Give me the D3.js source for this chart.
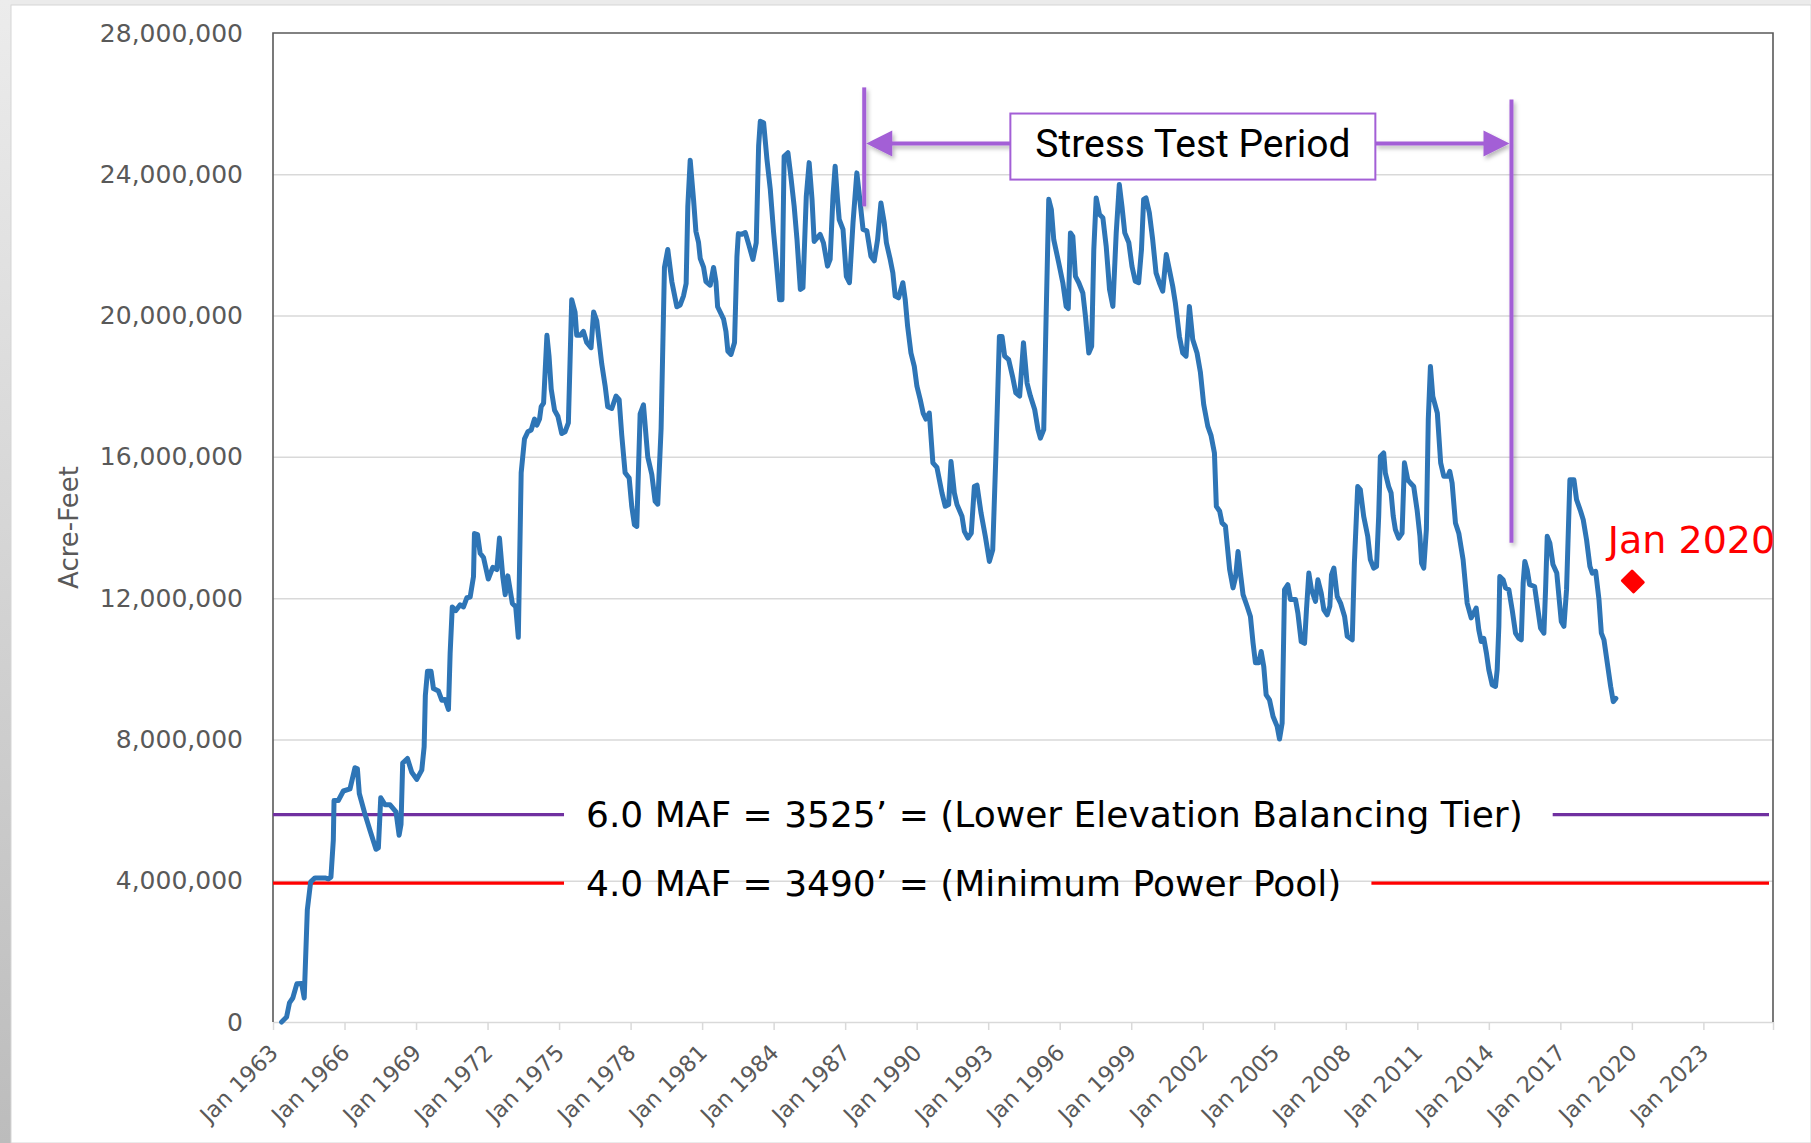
<!DOCTYPE html>
<html>
<head>
<meta charset="utf-8">
<script src="https://cdn.jsdelivr.net/npm/d3@7"></script>
<style>
  body { margin: 0; background: #fff; }
  svg { display: block; }
</style>
</head>
<body>
<svg id="chart" width="1811" height="1143"></svg>
<script>
// Lake Powell storage (decimal year, million acre-feet)
const years = [
  1963.36,1963.57,1963.69,1963.83,1964.00,1964.20,1964.31,1964.44,1964.58,1964.76,1965.18,1965.32,1965.43,1965.53,1965.56,1965.74,1965.95,
  1966.23,1966.44,1966.54,1966.62,1966.86,1967.07,1967.32,1967.42,1967.52,1967.70,1967.91,1968.16,1968.29,1968.37,1968.44,1968.64,1968.82,
  1969.03,1969.24,1969.34,1969.39,1969.48,1969.63,1969.73,1969.94,1970.08,1970.22,1970.36,1970.43,1970.52,1970.67,1970.85,1970.99,
  1971.13,1971.27,1971.41,1971.45,1971.58,1971.69,1971.83,1972.03,1972.22,1972.39,1972.50,1972.64,1972.74,1972.85,1973.04,1973.18,1973.29,
  1973.41,1973.55,1973.69,1973.83,1973.97,1974.07,1974.18,1974.25,1974.35,1974.49,1974.58,1974.67,1974.81,1974.95,1975.11,1975.25,1975.39,
  1975.53,1975.67,1975.74,1975.88,1976.02,1976.16,1976.34,1976.45,1976.58,1976.79,1976.93,1977.04,1977.21,1977.39,1977.52,1977.63,1977.77,
  1977.94,1978.05,1978.16,1978.26,1978.40,1978.54,1978.72,1978.89,1979.03,1979.14,1979.28,1979.42,1979.56,1979.73,1979.94,1980.08,1980.22,
  1980.33,1980.40,1980.50,1980.64,1980.74,1980.85,1980.92,1981.06,1981.16,1981.34,1981.48,1981.58,1981.65,1981.76,1981.90,1982.00,1982.08,
  1982.21,1982.36,1982.46,1982.52,1982.67,1982.81,1982.96,1983.13,1983.27,1983.37,1983.44,1983.58,1983.72,1983.86,1984.00,1984.14,1984.25,
  1984.35,1984.44,1984.60,1984.72,1984.86,1984.98,1985.12,1985.23,1985.37,1985.49,1985.61,1985.70,1985.95,1986.09,1986.26,1986.37,1986.49,
  1986.58,1986.68,1986.75,1986.91,1987.05,1987.18,1987.33,1987.49,1987.60,1987.75,1987.91,1988.08,1988.22,1988.36,1988.50,1988.64,1988.73,
  1988.89,1989.00,1989.10,1989.24,1989.42,1989.52,1989.62,1989.76,1989.90,1990.01,1990.15,1990.27,1990.39,1990.53,1990.68,1990.85,1991.06,
  1991.20,1991.34,1991.44,1991.58,1991.69,1991.90,1992.00,1992.15,1992.29,1992.42,1992.53,1992.70,1992.88,1993.05,1993.19,1993.33,1993.47,
  1993.58,1993.69,1993.86,1994.02,1994.16,1994.32,1994.48,1994.63,1994.77,1994.95,1995.09,1995.19,1995.33,1995.43,1995.54,1995.65,1995.75,
  1995.96,1996.13,1996.27,1996.36,1996.45,1996.55,1996.66,1996.80,1996.97,1997.08,1997.22,1997.34,1997.43,1997.53,1997.67,1997.81,1997.95,
  1998.09,1998.23,1998.37,1998.50,1998.61,1998.73,1998.90,1999.03,1999.17,1999.31,1999.43,1999.52,1999.62,1999.76,1999.90,2000.04,2000.18,
  2000.32,2000.47,2000.60,2000.74,2000.85,2001.02,2001.16,2001.30,2001.44,2001.58,2001.76,2001.90,2002.04,2002.21,2002.35,2002.49,2002.57,
  2002.71,2002.81,2002.95,2003.13,2003.27,2003.38,2003.48,2003.58,2003.69,2003.86,2004.00,2004.11,2004.21,2004.35,2004.45,2004.56,2004.66,
  2004.80,2004.95,2005.12,2005.22,2005.33,2005.43,2005.57,2005.68,2005.89,2005.99,2006.13,2006.27,2006.35,2006.45,2006.56,2006.73,2006.83,
  2006.97,2007.08,2007.22,2007.33,2007.40,2007.50,2007.64,2007.78,2007.95,2008.06,2008.27,2008.36,2008.50,2008.61,2008.75,2008.92,2009.03,
  2009.17,2009.29,2009.38,2009.45,2009.59,2009.66,2009.80,2009.90,2009.99,2010.08,2010.22,2010.36,2010.46,2010.60,2010.71,2010.85,2010.99,
  2011.11,2011.18,2011.27,2011.38,2011.46,2011.55,2011.65,2011.84,2011.98,2012.11,2012.28,2012.36,2012.46,2012.60,2012.74,2012.92,2013.09,
  2013.26,2013.47,2013.58,2013.68,2013.79,2013.90,2014.00,2014.14,2014.28,2014.35,2014.42,2014.46,2014.60,2014.70,2014.84,2014.98,2015.12,
  2015.26,2015.36,2015.44,2015.51,2015.61,2015.71,2015.92,2016.06,2016.17,2016.31,2016.38,2016.45,2016.56,2016.69,2016.85,2016.94,2017.04,
  2017.15,2017.26,2017.40,2017.57,2017.68,2017.85,2017.96,2018.10,2018.24,2018.34,2018.48,2018.62,2018.72,2018.83,2018.97,2019.11,2019.22,
  2019.33
];
const storage = [
  0.00,0.14,0.54,0.68,1.08,1.09,0.68,3.18,3.97,4.08,4.08,4.05,4.10,5.15,6.27,6.27,6.54,
  6.60,7.20,7.17,6.47,5.88,5.42,4.89,4.93,6.35,6.15,6.15,5.95,5.29,5.60,7.33,7.46,7.07,
  6.87,7.13,7.79,9.24,9.93,9.93,9.44,9.37,9.11,9.13,8.85,10.43,11.75,11.65,11.81,11.75,
  12.01,12.03,12.61,13.83,13.80,13.27,13.15,12.54,12.87,12.81,13.70,12.60,12.10,12.63,11.85,11.76,10.89,
  15.55,16.51,16.71,16.76,17.07,16.90,17.07,17.42,17.52,19.44,18.84,17.92,17.32,17.15,16.66,16.71,16.96,
  20.45,20.10,19.44,19.44,19.55,19.24,19.09,20.10,19.85,18.63,18.02,17.42,17.37,17.72,17.62,16.61,15.55,
  15.40,14.59,14.08,14.03,17.22,17.47,16.00,15.50,14.74,14.66,16.81,21.36,21.87,20.96,20.25,20.30,20.56,
  20.91,23.09,24.40,23.29,22.38,22.07,21.62,21.37,20.96,20.86,21.36,20.96,20.25,20.10,19.90,19.55,18.99,
  18.90,19.24,21.67,22.32,22.30,22.35,22.00,21.59,22.06,24.80,25.50,25.46,24.42,23.57,22.34,21.30,20.45,
  20.45,24.51,24.61,23.95,23.10,22.15,20.74,20.79,23.38,24.33,23.29,22.10,22.30,22.06,21.40,21.59,23.38,
  24.23,23.29,22.72,22.44,21.11,20.93,22.63,24.04,23.38,22.44,22.40,21.68,21.55,22.15,23.19,22.63,22.06,
  21.59,21.21,20.55,20.50,20.93,20.45,19.70,18.94,18.56,18.00,17.62,17.24,17.07,17.24,15.83,15.70,14.98,
  14.60,14.65,15.87,14.98,14.65,14.32,13.89,13.70,13.84,15.16,15.20,14.41,13.75,13.04,13.37,16.20,19.41,
  19.41,18.85,18.75,18.28,17.81,17.72,19.23,18.09,17.72,17.34,16.77,16.53,16.77,19.98,23.29,23.00,22.15,
  21.49,20.93,20.26,20.20,22.34,22.24,21.11,20.93,20.64,19.98,18.94,19.13,21.87,23.33,22.86,22.77,21.96,
  20.74,20.26,22.34,23.71,23.10,22.34,22.06,21.40,20.97,20.93,21.87,23.29,23.33,22.91,22.15,21.21,20.93,
  20.69,21.73,21.30,20.83,20.36,19.41,18.94,18.85,20.26,19.32,18.94,18.40,17.48,16.87,16.60,16.11,14.60,
  14.46,14.13,14.04,12.80,12.29,12.60,13.32,12.71,12.10,11.77,11.48,10.73,10.17,10.17,10.49,10.06,9.26,
  9.12,8.65,8.37,8.01,8.46,12.24,12.38,11.96,11.96,11.58,10.77,10.72,11.67,12.71,12.24,11.91,12.52,
  12.14,11.67,11.53,11.77,12.66,12.85,12.05,11.86,11.48,10.92,10.82,12.99,15.16,15.07,14.32,13.75,13.09,
  12.85,12.90,14.32,16.01,16.11,15.54,15.16,14.98,14.32,13.94,13.70,13.84,15.83,15.35,15.26,15.16,14.50,
  13.75,12.99,12.85,13.94,17.05,18.56,17.71,17.24,15.83,15.45,15.45,15.59,15.26,14.13,13.84,13.09,11.86,
  11.44,11.72,11.10,10.77,10.86,10.44,9.97,9.55,9.50,9.97,11.20,12.61,12.52,12.29,12.24,11.67,11.01,
  10.86,10.82,12.43,13.04,12.80,12.38,12.33,11.67,11.15,11.01,12.24,13.75,13.56,12.95,12.71,12.05,11.34,
  11.20,12.24,15.35,15.35,14.79,14.46,14.22,13.65,12.90,12.71,12.76,11.96,11.01,10.82,10.16,9.50,9.07,
  9.16
];

const yTicks = [0, 4, 8, 12, 16, 20, 24, 28];           // million acre-feet
const xTicks = d3.range(1963, 2024, 3);                  // Jan of each year
const jan2020 = { year: 2020.04, value: 12.47 };

const levelValues = [5.87, 3.93];
const levelLabels = ['6.0 MAF = 3525\u2019 = (Lower Elevation Balancing Tier)',
                     '4.0 MAF = 3490\u2019 = (Minimum Power Pool)'];
const levelColors = ['#7030A0', '#FF0000'];

const stressYears = [1987.8, 2014.95];
const stressTops = [26.46, 26.12];
const stressBottoms = [23.09, 13.57];
const stressArrowAt = 24.87;
const stressBox = { from: 1993.93, to: 2009.24, top: 25.72, bottom: 23.85 };

const svg = d3.select('#chart');
const x = d3.scaleLinear().domain([1963, 2025.92]).range([273, 1773]);
const y = d3.scaleLinear().domain([0, 28]).range([1022, 33]);
const purple = '#A35FD6';

// page frame
const defs = svg.append('defs');
const grad = defs.append('linearGradient').attr('id', 'edge').attr('x1', 0).attr('y1', 0).attr('x2', 0).attr('y2', 1);
grad.append('stop').attr('offset', '0%').attr('stop-color', '#ececec');
grad.append('stop').attr('offset', '100%').attr('stop-color', '#bcbcbc');
const shadow = defs.append('filter').attr('id', 'shadow').attr('x', '-50%').attr('y', '-50%').attr('width', '200%').attr('height', '200%');
shadow.append('feDropShadow').attr('dx', 2).attr('dy', 3).attr('stdDeviation', 2).attr('flood-color', '#000').attr('flood-opacity', 0.28);

svg.append('rect').attr('width', 1811).attr('height', 1143).attr('fill', '#ebebeb');
svg.append('rect').attr('width', 11).attr('height', 1143).attr('fill', 'url(#edge)');
svg.append('rect').attr('x', 11).attr('y', 5).attr('width', 1800).attr('height', 1138)
  .attr('fill', '#fff').attr('stroke', '#d6d6d6').attr('stroke-width', 1);

// gridlines
svg.append('g')
  .attr('transform', `translate(${x.range()[0]},0)`)
  .call(d3.axisLeft(y).tickValues(yTicks.filter(d => d > 0 && d < 28))
    .tickSize(-(x.range()[1] - x.range()[0])).tickFormat(''))
  .call(g => g.select('.domain').remove())
  .call(g => g.selectAll('line').attr('stroke', '#d9d9d9').attr('stroke-width', 1.5));

// y labels
svg.append('g')
  .attr('transform', `translate(${x.range()[0]},0)`)
  .call(d3.axisLeft(y).tickValues(yTicks).tickSize(0).tickPadding(30)
    .tickFormat(d => d3.format(',')(d * 1e6)))
  .attr('font-family', 'DejaVu Sans').attr('font-size', 25)
  .call(g => g.select('.domain').remove())
  .selectAll('text').attr('fill', '#595959');

svg.append('text')
  .attr('transform', `translate(69,${y(14.0)}) rotate(-90)`)
  .attr('text-anchor', 'middle').attr('dy', '0.35em')
  .attr('font-family', 'DejaVu Sans').attr('font-size', 26).attr('fill', '#595959')
  .text('Acre-Feet');

// x axis
svg.append('g')
  .attr('transform', `translate(0,${y(0)})`)
  .call(d3.axisBottom(x).tickValues(xTicks.concat([x.domain()[1]])).tickSize(8).tickSizeOuter(0)
    .tickFormat(d => xTicks.includes(d) ? 'Jan ' + d : ''))
  .attr('font-family', 'DejaVu Sans').attr('font-size', 22.5)
  .call(g => g.select('.domain').attr('stroke', '#d9d9d9').attr('stroke-width', 1.5))
  .call(g => g.selectAll('.tick line').attr('stroke', '#d9d9d9').attr('stroke-width', 1.5))
  .selectAll('text')
    .attr('fill', '#595959').attr('text-anchor', 'end')
    .attr('x', 0).attr('y', 0).attr('dy', 0)
    .attr('transform', 'translate(6,32) rotate(-45)');

// plot border (left, top, right)
svg.append('path')
  .attr('d', `M${x.range()[0]},${y(0)}V${y(28)}H${x.range()[1]}V${y(0)}`)
  .attr('fill', 'none').attr('stroke', '#595959').attr('stroke-width', 1.6);

// level lines with labels
levelValues.forEach((v, i) => {
  const t = svg.append('text')
    .attr('x', x(1976.13)).attr('y', y(v)).attr('dy', '0.35em')
    .attr('font-family', 'DejaVu Sans').attr('font-size', 36).attr('fill', '#000')
    .text(levelLabels[i]);
  const b = t.node().getBBox();
  const segs = [[x.range()[0], b.x - 22], [b.x + b.width + 30, x.range()[1] - 4]];
  segs.forEach(s => {
    svg.append('line').attr('x1', s[0]).attr('x2', s[1]).attr('y1', y(v)).attr('y2', y(v))
      .attr('stroke', levelColors[i]).attr('stroke-width', 3.2);
  });
});

// storage line
svg.append('path')
  .datum(years.map((yr, i) => [yr, storage[i]]))
  .attr('fill', 'none').attr('stroke', '#2E75B6').attr('stroke-width', 5)
  .attr('stroke-linejoin', 'round').attr('stroke-linecap', 'round')
  .attr('d', d3.line().x(d => x(d[0])).y(d => y(d[1])));

// stress test annotation
const ann = svg.append('g').attr('filter', 'url(#shadow)');
stressYears.forEach((yr, i) => {
  ann.append('line').attr('x1', x(yr)).attr('x2', x(yr))
    .attr('y1', y(stressTops[i])).attr('y2', y(stressBottoms[i]))
    .attr('stroke', purple).attr('stroke-width', 4);
});
const ay = y(stressArrowAt);
const xl = x(stressYears[0]) + 2, xr = x(stressYears[1]) - 2;
ann.append('line').attr('x1', xl + 24).attr('x2', x(stressBox.from)).attr('y1', ay).attr('y2', ay)
  .attr('stroke', purple).attr('stroke-width', 4);
ann.append('line').attr('x1', x(stressBox.to)).attr('x2', xr - 24).attr('y1', ay).attr('y2', ay)
  .attr('stroke', purple).attr('stroke-width', 4);
ann.append('path').attr('d', `M${xl},${ay}L${xl + 26},${ay - 13}L${xl + 26},${ay + 13}Z`).attr('fill', purple);
ann.append('path').attr('d', `M${xr},${ay}L${xr - 26},${ay - 13}L${xr - 26},${ay + 13}Z`).attr('fill', purple);

svg.append('rect')
  .attr('x', x(stressBox.from)).attr('y', y(stressBox.top))
  .attr('width', x(stressBox.to) - x(stressBox.from)).attr('height', y(stressBox.bottom) - y(stressBox.top))
  .attr('fill', '#fff').attr('stroke', purple).attr('stroke-width', 2);
svg.append('text')
  .attr('x', (x(stressBox.from) + x(stressBox.to)) / 2).attr('y', y(stressBox.bottom) - 23)
  .attr('text-anchor', 'middle')
  .attr('font-family', 'Roboto').attr('font-size', 39).attr('fill', '#000')
  .text('Stress Test Period');

// Jan 2020 marker
const mx = x(jan2020.year), my = y(jan2020.value);
svg.append('path')
  .attr('transform', `translate(${mx},${my}) rotate(45) scale(1,0.88)`)
  .attr('d', d3.symbol(d3.symbolSquare, 250)())
  .attr('fill', '#FF0000').attr('stroke', '#FF0000').attr('stroke-width', 3).attr('stroke-linejoin', 'round');
svg.append('text')
  .attr('x', mx - 25).attr('y', my - 29)
  .attr('font-family', 'DejaVu Sans').attr('font-size', 38).attr('fill', '#FF0000')
  .text('Jan 2020');
</script>
</body>
</html>
